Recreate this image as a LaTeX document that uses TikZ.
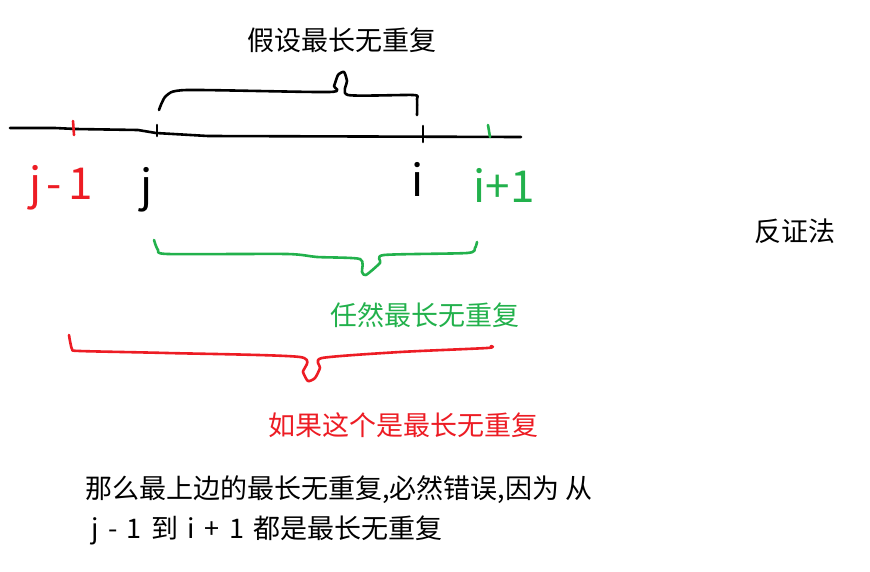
\documentclass[tikz,border=0pt]{standalone}
\usepackage{fontspec}
\newfontfamily\cjk{Noto Sans CJK SC}
\usetikzlibrary{positioning}
\definecolor{penR}{RGB}{237,28,36}
\definecolor{penG}{RGB}{34,177,76}
\begin{document}
\begin{tikzpicture}[x=1pt,y=-1pt,
  pen/.style={line width=2.6pt,line cap=round,line join=round},
  hand/.style={font=\cjk\fontsize{44}{44}\selectfont,inner sep=0pt},
  note/.style={font=\cjk\fontsize{27}{34}\selectfont,inner sep=0pt}]
\useasboundingbox[fill=white] (0,0) rectangle (870,571);
% number line and its ticks
\draw[pen] (10,128) -- (55,128) -- (76,129) -- (138,130) -- (156,133) -- (208,136) -- (521,137);
\coordinate (tjm) at (74,127); \coordinate (tj) at (157,130);
\coordinate (ti) at (423,134); \coordinate (tip) at (489,131);
\draw[pen,penR] ([yshift=-8]tjm) -- ([xshift=-1,yshift=6]tjm);
\draw[pen] ([yshift=-6]tj) -- ([yshift=5]tj);
\draw[pen] ([yshift=-8]ti) -- ([yshift=8]ti);
\draw[pen,penG] ([xshift=1,yshift=-6]tip) -- ([xshift=-1,yshift=6]tip);
% hand written indices
\node[hand,text=penR] (ljm) at (61,188) {j\kern5pt-\kern7pt1};
\node[hand] (lj) at (147,190) {j};
\node[hand] (li) at (418,179) {i};
\node[hand,text=penG] (lip) at (504,185) {i+1};
% braces
\draw[pen] plot[smooth,tension=0.4] coordinates {(159,110) (166,96) (187,90) (329,92) (334,86) (338,75) (344,72) (347,81) (348,95) (413,95) (417,99) (417,115)};
\draw[pen,penG] plot[smooth,tension=0.4] coordinates {(154,240) (158,250) (168,254) (287,254) (317,257) (360,259) (362,272) (366,275) (380,263) (384,255) (467,253) (475,248) (477,242)};
\draw[pen,penR] plot[smooth,tension=0.4] coordinates {(69,335) (72,349) (80,351) (167,353) (300,357) (303,372) (308,381) (315,378) (320,368) (322,358) (400,352) (487,348) (491,346)};
% texts
\node[note] (top) at (342,40) {假设最长无重复};
\node[note,text=penG] (still) at (425,315) {任然最长无重复};
\node[note,text=penR] (ifthis) at (403,425) {如果这个是最长无重复};
\node[note] (proof) at (795,231) {反证法};
\node[note,anchor=west] (concl) at (85,490) {那么最上边的最长无重复,必然错误,因为 从};
\node[note,anchor=west] (concl2) at (91,530) {\spaceskip=9.5pt j - 1 到 i + 1 都是最长无重复};
\end{tikzpicture}
\end{document}
